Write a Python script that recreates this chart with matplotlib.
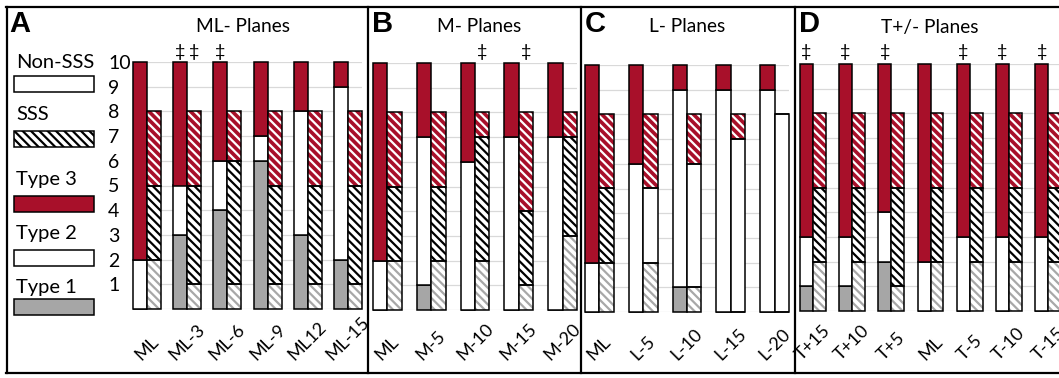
import matplotlib
matplotlib.use("Agg")
import matplotlib.pyplot as plt
import matplotlib.transforms as mtransforms
from matplotlib.patches import Rectangle
from matplotlib.lines import Line2D

W, H, DPI = 1059, 378, 100

# ---------------- data ----------------
# Panel A: ML- planes
a_cats = ["ML", "ML-3", "ML-6", "ML-9", "ML12", "ML-15"]
a_non_t1 = [0, 3, 4, 6, 3, 2]
a_non_t2 = [2, 2, 2, 1, 5, 7]
a_non_t3 = [8, 5, 4, 3, 2, 1]
a_sss_t1 = [2, 1, 1, 1, 1, 1]
a_sss_t2 = [3, 4, 5, 4, 4, 4]
a_sss_t3 = [3, 3, 2, 3, 3, 3]
a_dag_non = [False, True, True, False, False, False]
a_dag_sss = [False, True, False, False, False, False]

# Panel B: M- planes
b_cats = ["ML", "M-5", "M-10", "M-15", "M-20"]
b_non_t1 = [0, 1, 0, 0, 0]
b_non_t2 = [2, 6, 6, 7, 7]
b_non_t3 = [8, 3, 4, 3, 3]
b_sss_t1 = [2, 2, 2, 1, 3]
b_sss_t2 = [3, 3, 5, 3, 4]
b_sss_t3 = [3, 3, 1, 4, 1]
b_dag_non = [False, False, False, False, False]
b_dag_sss = [False, False, True, True, False]

# Panel C: L- planes
c_cats = ["ML", "L-5", "L-10", "L-15", "L-20"]
c_non_t1 = [0, 0, 1, 0, 0]
c_non_t2 = [2, 6, 8, 9, 9]
c_non_t3 = [8, 4, 1, 1, 1]
c_sss_t1 = [2, 2, 1, 0, 0]
c_sss_t2 = [3, 3, 5, 7, 8]
c_sss_t3 = [3, 3, 2, 1, 0]
c_dag_non = [False, False, False, False, False]
c_dag_sss = [False, False, False, False, False]

# Panel D: T+/- planes
d_cats = ["T+15", "T+10", "T+5", "ML", "T-5", "T-10", "T-15"]
d_non_t1 = [1, 1, 2, 0, 0, 0, 0]
d_non_t2 = [2, 2, 2, 2, 3, 3, 3]
d_non_t3 = [7, 7, 6, 8, 7, 7, 7]
d_sss_t1 = [2, 2, 1, 2, 2, 2, 2]
d_sss_t2 = [3, 3, 4, 3, 3, 3, 3]
d_sss_t3 = [3, 3, 3, 3, 3, 3, 3]
d_dag_non = [True, True, True, False, True, True, True]
d_dag_sss = [False, False, False, False, False, False, False]

y_ticks = list(range(0, 11))
y_tick_labels = [""] + [str(v) for v in range(1, 11)]
legend_labels = ["Non-SSS", "SSS", "Type 3", "Type 2", "Type 1"]

# ---------------- style ----------------
RED = "#A8102A"
GRAY = "#A6A6A6"
HGRAY = "#A8A8A8"
GRID = "#D9D9D9"
EDGE_LW = 1.1
HATCH = "\\\\\\\\"

plt.rcParams["font.family"] = ["Lato", "DejaVu Sans"]
plt.rcParams["hatch.linewidth"] = 1.6

fig = plt.figure(figsize=(W / DPI, H / DPI), dpi=DPI)
fig.patch.set_facecolor("white")


def fx(px):
    return px / W


def fy(py):
    return 1 - py / H


def add_axes_px(left, right, top, bottom):
    return fig.add_axes([fx(left), fy(bottom), fx(right) - fx(left), fy(top) - fy(bottom)])


def hatched_bar(ax, x, h, w, b, bg, hc, show_hatch=True):
    ax.bar(x, h, w, bottom=b, color=bg, edgecolor=hc if show_hatch else bg,
           linewidth=0, hatch=HATCH if show_hatch else None, zorder=3, clip_on=False)
    ax.bar(x, h, w, bottom=b, color="none", edgecolor="black",
           linewidth=EDGE_LW, zorder=4, clip_on=False)


def draw_panel(ax, cats, non, sss, dag_non, dag_sss, w, title, title_x, letter, letter_x,
               show_ylabels=False, sss_t2_hatch=None):
    xs = list(range(len(cats)))
    xl = [x - w / 2 for x in xs]
    xr = [x + w / 2 for x in xs]
    t1, t2, t3 = non
    s1, s2, s3 = sss
    b2 = t1
    b3 = [a + b for a, b in zip(t1, t2)]
    ax.bar(xl, t1, w, color=GRAY, edgecolor="black", linewidth=EDGE_LW, zorder=3, clip_on=False)
    ax.bar(xl, t2, w, bottom=b2, color="white", edgecolor="black", linewidth=EDGE_LW, zorder=3, clip_on=False)
    ax.bar(xl, t3, w, bottom=b3, color=RED, edgecolor="black", linewidth=EDGE_LW, zorder=3, clip_on=False)
    sb3 = [a + b for a, b in zip(s1, s2)]
    for i, x in enumerate(xr):
        hatched_bar(ax, x, s1[i], w, 0, "white", HGRAY)
        hh = True if sss_t2_hatch is None else sss_t2_hatch[i]
        hatched_bar(ax, x, s2[i], w, s1[i], "white", "black", hh)
        hatched_bar(ax, x, s3[i], w, sb3[i], RED, "white")
    ax.set_xlim(-w, len(cats) - 1 + w)
    ax.set_ylim(0, 10)
    ax.set_yticks(y_ticks)
    if show_ylabels:
        ax.set_yticklabels(y_tick_labels, fontsize=14)
        ax.tick_params(axis="y", pad=18, length=0)
        for lab in ax.get_yticklabels():
            lab.set_horizontalalignment("left")
    else:
        ax.set_yticklabels([])
        ax.tick_params(axis="y", length=0)
    ax.set_xticks([])
    ax.yaxis.grid(True, color=GRID, linewidth=0.9)
    ax.set_axisbelow(True)
    for s in ax.spines.values():
        s.set_visible(False)
    ax.patch.set_alpha(0)
    tr = mtransforms.blended_transform_factory(ax.transData, fig.transFigure)
    for i, c in enumerate(cats):
        ax.text(i, fy(363), c, transform=tr, rotation=45, ha="center", va="bottom",
                fontsize=13, clip_on=False)
        if dag_non[i]:
            ax.text(xl[i], fy(52), "\u2021", transform=tr, ha="center", va="center", fontsize=13)
        if dag_sss[i]:
            ax.text(xr[i], fy(52), "\u2021", transform=tr, ha="center", va="center", fontsize=13)
    fig.text(fx(title_x), fy(27), title, ha="center", va="center", fontsize=13.8)
    fig.text(fx(letter_x), fy(24), letter, ha="left", va="center", fontsize=21,
             fontweight="bold", family=["Liberation Sans", "DejaVu Sans"])


# Panel A
axA = add_axes_px(133, 362, 62, 309)
draw_panel(axA, a_cats, (a_non_t1, a_non_t2, a_non_t3), (a_sss_t1, a_sss_t2, a_sss_t3),
           a_dag_non, a_dag_sss, 0.35, "ML- Planes", 243, "A", 9, show_ylabels=True)

# Panel B
axB = add_axes_px(373, 577, 63, 310)
draw_panel(axB, b_cats, (b_non_t1, b_non_t2, b_non_t3), (b_sss_t1, b_sss_t2, b_sss_t3),
           b_dag_non, b_dag_sss, 0.33, "M- Planes", 479, "B", 372)

# Panel C
axC = add_axes_px(585, 789, 65, 312)
draw_panel(axC, c_cats, (c_non_t1, c_non_t2, c_non_t3), (c_sss_t1, c_sss_t2, c_sss_t3),
           c_dag_non, c_dag_sss, 0.33, "L- Planes", 687, "C", 585,
           sss_t2_hatch=[True, False, False, False, False])

# Panel D (runs off the right edge)
axD = add_axes_px(800, 1061, 64, 311)
draw_panel(axD, d_cats, (d_non_t1, d_non_t2, d_non_t3), (d_sss_t1, d_sss_t2, d_sss_t3),
           d_dag_non, d_dag_sss, 0.325, "T+/- Planes", 930, "D", 799)

# Legend in panel A
leg_text_y = [62, 115, 180, 233, 287]
leg_box_top = [76, 131, 196, 250, 299]
leg_fc = ["white", "white", RED, "white", GRAY]
leg_hatch = [None, HATCH, None, None, None]
for lab, ty, by, fc, hc in zip(legend_labels, leg_text_y, leg_box_top, leg_fc, leg_hatch):
    fig.text(fx(16), fy(ty), lab, ha="left", va="center", fontsize=14.5)
    if hc:
        fig.add_artist(Rectangle((fx(14), fy(by + 16)), fx(94) - fx(14), fy(by) - fy(by + 16),
                                 transform=fig.transFigure, facecolor="white", edgecolor="black",
                                 hatch=hc, linewidth=0))
    fig.add_artist(Rectangle((fx(14), fy(by + 16)), fx(94) - fx(14), fy(by) - fy(by + 16),
                             transform=fig.transFigure, facecolor=fc if not hc else "none",
                             edgecolor="black", linewidth=EDGE_LW))

# Panel frames
FRAME_LW = 1.6
fig.add_artist(Line2D([fx(6), fx(1060)], [fy(6.5), fy(6.5)], transform=fig.transFigure,
                      color="black", linewidth=FRAME_LW))
fig.add_artist(Line2D([fx(6), fx(1060)], [fy(373), fy(373)], transform=fig.transFigure,
                      color="black", linewidth=FRAME_LW))
for xp in [6.5, 367.5, 581, 795]:
    fig.add_artist(Line2D([fx(xp), fx(xp)], [fy(6.5), fy(373)], transform=fig.transFigure,
                          color="black", linewidth=FRAME_LW))

fig.savefig("out.png", dpi=DPI, facecolor="white")
